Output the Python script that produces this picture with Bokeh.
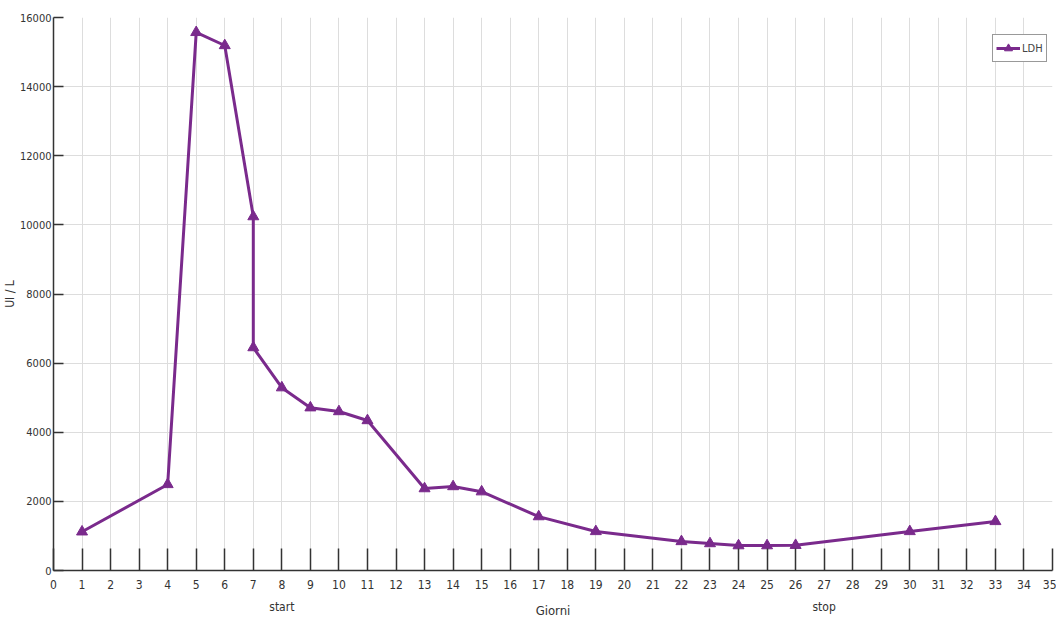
from bokeh.plotting import figure
from bokeh.models import FixedTicker, Range1d
from bokeh.embed import file_html
from bokeh.resources import INLINE

days = [1, 4, 5, 6, 7, 7, 8, 9, 10, 11, 13, 14, 15, 17, 19, 22, 23, 24, 25, 26, 30, 33]
ldh = [1120, 2490, 15570, 15190, 10240, 6450, 5290, 4710, 4600, 4340, 2370, 2430, 2280,
       1560, 1130, 840, 780, 720, 720, 730, 1130, 1420]
x_ticks = list(range(0, 36))
y_ticks = list(range(0, 16001, 2000))
tick_overrides = {8: "8\nstart", 27: "27\nstop"}

FONT = "DejaVu Sans Condensed"
PURPLE = "#7a2a8c"
AXIS = "#333333"

p = figure(width=1056, height=620, output_backend="svg", toolbar_location=None,
           x_range=Range1d(0, 35), y_range=Range1d(0, 16000))
p.min_border_left = 52
p.min_border_right = 4
p.min_border_top = 17
p.min_border_bottom = 50
p.outline_line_color = None

p.line(days, ldh, line_color=PURPLE, line_width=3, legend_label="LDH")
p.scatter(days, ldh, marker="triangle", size=11, fill_color=PURPLE, line_color=PURPLE,
          legend_label="LDH")

p.xaxis.ticker = FixedTicker(ticks=x_ticks)
p.yaxis.ticker = FixedTicker(ticks=y_ticks)
p.xaxis.major_label_overrides = {k: v for k, v in tick_overrides.items()}
p.xaxis.minor_tick_line_color = None
p.yaxis.minor_tick_line_color = None
p.xaxis.major_tick_in = 22
p.xaxis.major_tick_out = 0
p.yaxis.major_tick_in = 10
p.yaxis.major_tick_out = 0
for ax in (p.xaxis, p.yaxis):
    ax.axis_line_color = AXIS
    ax.axis_line_width = 1.5
    ax.major_tick_line_color = AXIS
    ax.major_tick_line_width = 1.5
    ax.major_label_text_font = FONT
    ax.major_label_text_font_size = "11px"
    ax.major_label_text_color = AXIS
    ax.axis_label_text_font = FONT
    ax.axis_label_text_font_style = "normal"
    ax.axis_label_text_font_size = "13px"
    ax.axis_label_text_color = AXIS
p.xaxis.major_label_text_font_size = "12px"
p.xaxis.major_label_text_line_height = 1.6
p.yaxis.axis_label_text_font_size = "12px"
p.xaxis.axis_label = "Giorni"
p.yaxis.axis_label = "UI / L"
p.xaxis.major_label_standoff = 7
p.xaxis.axis_label_standoff = -14
p.yaxis.major_label_standoff = 2
p.yaxis.axis_label_standoff = 0

p.xgrid.grid_line_color = "#dddddd"
p.ygrid.grid_line_color = "#dddddd"

p.legend.location = (939, 508)
p.legend.margin = 0
p.legend.border_line_color = "#333333"
p.legend.border_line_width = 1.5
p.legend.label_text_font = FONT
p.legend.label_text_font_size = "11px"
p.legend.padding = 3
p.legend.label_standoff = 2
p.legend.glyph_width = 24
p.legend.glyph_height = 20
p.legend.background_fill_alpha = 1.0
p.legend.spacing = 0

open("out.html", "w").write(file_html(p, INLINE))
